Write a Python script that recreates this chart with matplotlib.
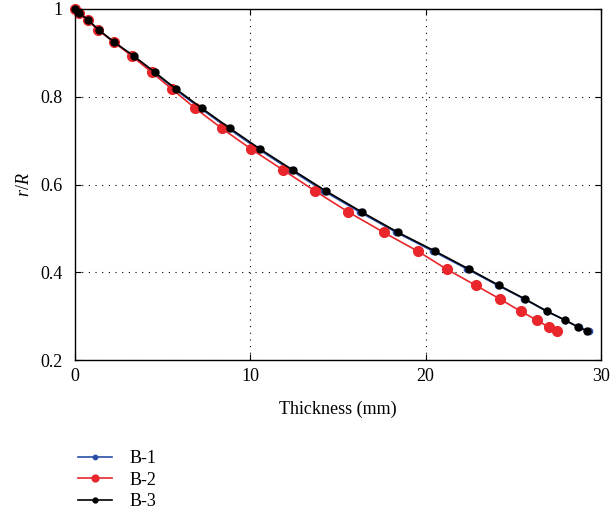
import matplotlib
matplotlib.use('Agg')
import matplotlib.pyplot as plt

plt.rcParams['font.family'] = ['Liberation Serif', 'DejaVu Serif']
plt.rcParams['mathtext.fontset'] = 'custom'
plt.rcParams['mathtext.it'] = 'Liberation Serif:italic'
plt.rcParams['mathtext.rm'] = 'Liberation Serif'

# r/R values shared by the three specimens
r_over_R = [1.0, 0.991, 0.975, 0.952, 0.925, 0.893, 0.856, 0.818, 0.774, 0.728,
            0.681, 0.633, 0.585, 0.537, 0.491, 0.448, 0.407, 0.370, 0.339, 0.311,
            0.291, 0.275, 0.266]

# thickness (mm)
b3_x = [0.0, 0.25, 0.74, 1.37, 2.22, 3.35, 4.55, 5.75, 7.23, 8.84,
        10.55, 12.42, 14.32, 16.37, 18.42, 20.54, 22.48, 24.19, 25.67, 26.93,
        27.95, 28.7, 29.2]
b1_x = [0.0, 0.23, 0.72, 1.35, 2.18, 3.3, 4.48, 5.67, 7.14, 8.74,
        10.44, 12.3, 14.2, 16.25, 18.32, 20.42, 22.38, 24.12, 25.62, 26.9,
        27.93, 28.72, 29.3]
b2_x = [0.0, 0.23, 0.72, 1.31, 2.22, 3.23, 4.37, 5.51, 6.85, 8.37,
        10.04, 11.87, 13.7, 15.6, 17.6, 19.55, 21.2, 22.86, 24.24, 25.42,
        26.34, 27.02, 27.5]

fig = plt.figure(figsize=(6.13, 5.14), dpi=100)
ax = fig.add_axes([0.1223, 0.2996, 0.8581, 0.6829])

ax.plot(b1_x, r_over_R, '-o', color='#2a4fa8', lw=1.2, ms=4.5, label='B-1', clip_on=False)
ax.plot(b2_x, r_over_R, '-o', color='#e8262b', lw=1.2, ms=7, label='B-2', clip_on=False)
ax.plot(b3_x, r_over_R, '-o', color='black', lw=1.2, ms=5, label='B-3', clip_on=False)

ax.set_xlim(0, 30)
ax.set_ylim(0.2, 1.0)
ax.set_xticks([0, 10, 20, 30])
ax.set_yticks([0.2, 0.4, 0.6, 0.8, 1.0])
ax.set_yticklabels(['0.2', '0.4', '0.6', '0.8', '1'])
ax.tick_params(direction='in', labelsize=13, length=4, top=True, right=True)
ax.tick_params(axis='y', pad=9)
ax.tick_params(axis='x', pad=6)
ax.grid(True, color='black', linestyle=(0, (1, 5)), linewidth=0.8)
for s in ax.spines.values():
    s.set_linewidth(1.0)

ax.set_xlabel('Thickness (mm)', fontsize=13, labelpad=11)
ax.set_ylabel('$r/R$', fontsize=13, labelpad=5)

fig.legend(loc='upper left', bbox_to_anchor=(0.113, 0.142), frameon=False,
           fontsize=13, handlelength=1.85, handletextpad=1.0, labelspacing=0.25,
           borderpad=0, markerscale=0.7)

fig.savefig('out.png', dpi=100)
